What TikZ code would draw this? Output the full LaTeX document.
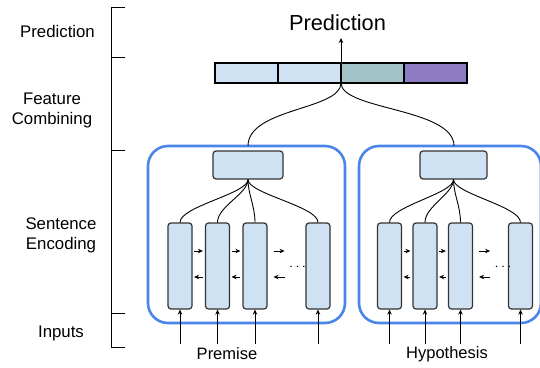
\documentclass[tikz,border=0pt]{standalone}
\usepackage{fontspec}
\setmainfont{Liberation Sans}
\usetikzlibrary{arrows.meta,calc}
\definecolor{cellblue}{HTML}{CFE2F3}
\definecolor{cellteal}{HTML}{A2C4C9}
\definecolor{cellpurple}{HTML}{8E7CC3}
\definecolor{encblue}{HTML}{4A86E8}
\definecolor{edgegray}{HTML}{333333}
\tikzset{
  lbl/.style={font=\fontsize{16.8}{20}\selectfont, align=center, inner sep=0pt},
  sublbl/.style={font=\fontsize{16.5}{20}\selectfont, inner sep=0pt},
  col/.style={draw=edgegray, line width=1.2pt, fill=cellblue, rounded corners=3pt, minimum width=24pt, minimum height=86pt, inner sep=0pt},
  topbox/.style={draw=edgegray, line width=1.2pt, fill=cellblue, rounded corners=3pt, minimum height=28pt, inner sep=0pt},
  seg/.style={draw=black, line width=1.2pt, minimum width=63pt, minimum height=20pt, inner sep=0pt},
  enc/.style={draw=encblue, line width=2.6pt, rounded corners=20pt},
  link/.style={black, line width=0.9pt},
  arr/.style={black, line width=0.9pt, -{Stealth[length=5pt,width=4.5pt]}},
}
\begin{document}
\begin{tikzpicture}[x=1pt,y=-1pt]
\useasboundingbox (0,0) rectangle (540,367);
\clip (0,0) rectangle (540,367);
% bracket
\draw[line width=0.9pt] (125,7) -- (111,7) -- (111,347) -- (125,347);
\foreach \yy in {57,150,313} \draw[line width=0.9pt] (111,\yy) -- (125,\yy);
\node[lbl] (lpred) at (57.5,31) {Prediction};
\node[lbl] (lfeat) at (52,110) {Feature\\Combining};
\node[lbl] (lsent) at (61,235) {Sentence\\Encoding};
\node[lbl] (linp) at (61,333) {Inputs};
% prediction bar
\node[seg, fill=cellblue] (s1) at (246.5,73) {};
\node[seg, fill=cellblue] (s2) at (309.5,73) {};
\node[seg, fill=cellteal] (s3) at (372.5,73) {};
\node[seg, fill=cellpurple] (s4) at (435.5,73) {};
\node[font=\fontsize{21.8}{26}\selectfont, inner sep=0pt] (pred) at (337.5,23) {Prediction};
\coordinate (bartop) at (341,63);
\coordinate (barbot) at (341,83);
\coordinate (arrtip) at (341,38);
\draw[arr] (bartop) -- (arrtip);
% encoder frames
\draw[enc] (148,146) rectangle (345,323);
\draw[enc] (359,146) rectangle (541,323);
\coordinate (lenctop) at (248,146);
\coordinate (renctop) at (454,146);
\draw[link] (barbot) .. controls (341,110) and (248,108) .. (lenctop);
\draw[link] (barbot) .. controls (341,110) and (454,108) .. (renctop);
% left encoder
\node[topbox, minimum width=70pt] (lt) at (248,165) {};
\node[col] (l1) at (180,266) {};
\node[col] (l2) at (217.5,266) {};
\node[col] (l3) at (255,266) {};
\node[col] (l4) at (318,266) {};
\foreach \c in {l1,l2,l3,l4}
  \draw[link] (lt.south) .. controls ($(lt.south)+(0,14)$) and ($(\c.north)+(0,-16)$) .. (\c.north);
% right encoder
\node[topbox, minimum width=67pt] (rt) at (453.5,165) {};
\node[col] (r1) at (389.5,266) {};
\node[col] (r2) at (425,266) {};
\node[col] (r3) at (460.5,266) {};
\node[col] (r4) at (520.5,266) {};
\foreach \c in {r1,r2,r3,r4}
  \draw[link] (rt.south) .. controls ($(rt.south)+(0,14)$) and ($(\c.north)+(0,-16)$) .. (\c.north);
% recurrent arrows
\foreach \a/\b in {l1/l2,l2/l3,r1/r2,r2/r3}{
  \draw[arr] ([xshift=1.5pt,yshift=15pt]\a.east) -- ([xshift=-2pt,yshift=15pt]\b.west);
  \draw[arr] ([xshift=-2pt,yshift=-11pt]\b.west) -- ([xshift=1.5pt,yshift=-11pt]\a.east);
}
\foreach \a in {l3,r3}{
  \draw[arr] ([xshift=6pt,yshift=15pt]\a.east) -- ([xshift=17pt,yshift=15pt]\a.east);
  \draw[arr] ([xshift=17pt,yshift=-11pt]\a.east) -- ([xshift=6pt,yshift=-11pt]\a.east);
  \node[inner sep=0pt, font=\fontsize{14}{14}\selectfont] (\a dots) at ([xshift=30pt,yshift=-1pt]\a.east) {$\cdots$};
}
% inputs
\foreach \c in {l1,l2,l3,l4,r1,r2,r3,r4}{
  \coordinate (\c in) at ([yshift=-34pt]\c.south);
  \draw[arr] (\c in) -- (\c.south);
}
\node[sublbl] (premise) at (227,354) {Premise};
\node[sublbl] (hyp) at (447,354) {Hypothesis};
\end{tikzpicture}
\end{document}
